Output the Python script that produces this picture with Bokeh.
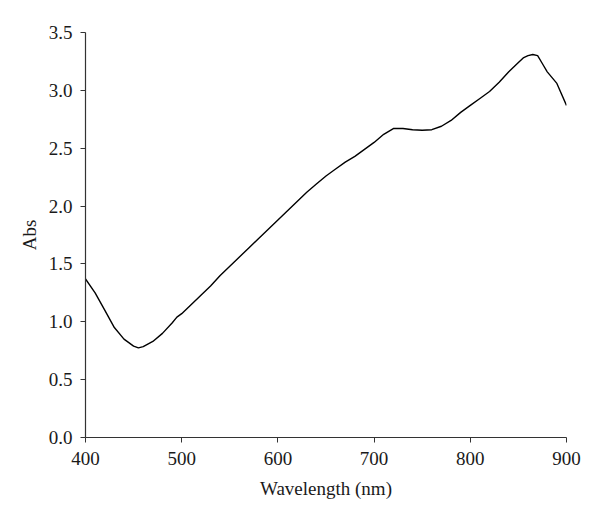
from bokeh.plotting import figure
from bokeh.models import Range1d, SingleIntervalTicker, PrintfTickFormatter
from bokeh.embed import file_html
from bokeh.resources import INLINE

wavelength = [400, 410, 420, 430, 440, 450, 455, 460, 470, 480, 490, 495, 500,
              510, 520, 530, 540, 550, 560, 570, 580, 590, 600, 610, 620, 630,
              640, 650, 660, 670, 680, 690, 700, 710, 720, 730, 740, 750, 760,
              770, 780, 790, 800, 810, 820, 830, 840, 850, 855, 860, 865, 870,
              875, 880, 890, 900]
absorbance = [1.37, 1.25, 1.10, 0.95, 0.85, 0.79, 0.775, 0.785, 0.83, 0.90, 0.99, 1.04, 1.07,
              1.15, 1.23, 1.31, 1.40, 1.48, 1.56, 1.64, 1.72, 1.80, 1.88, 1.96, 2.04, 2.12,
              2.19, 2.26, 2.32, 2.38, 2.43, 2.49, 2.55, 2.62, 2.67, 2.67, 2.66, 2.655, 2.66,
              2.69, 2.74, 2.81, 2.87, 2.93, 2.99, 3.07, 3.16, 3.24, 3.28, 3.30, 3.31, 3.30,
              3.23, 3.16, 3.06, 2.87]

FONT = "Liberation Serif"

p = figure(width=592, height=512, output_backend="svg", toolbar_location=None,
           x_range=Range1d(400, 900), y_range=Range1d(0, 3.5),
           min_border_left=85, min_border_right=26, min_border_top=32, min_border_bottom=75)
p.outline_line_color = None
p.xgrid.visible = False
p.ygrid.visible = False

p.line(wavelength, absorbance, line_color="black", line_width=1.4)

p.xaxis.ticker = SingleIntervalTicker(interval=100)
p.yaxis.ticker = SingleIntervalTicker(interval=0.5)
p.yaxis.formatter = PrintfTickFormatter(format="%.1f")
p.xaxis.axis_label = "Wavelength (nm)"
p.yaxis.axis_label = "Abs"

for ax in (p.xaxis, p.yaxis):
    ax.minor_tick_line_color = None
    ax.major_tick_in = 0
    ax.major_tick_out = 5
    ax.axis_line_color = "#333333"
    ax.axis_line_width = 1.2
    ax.major_tick_line_color = "#333333"
    ax.major_label_text_font = FONT
    ax.major_label_text_font_size = "19px"
    ax.major_label_text_color = "#1a1a1a"
    ax.axis_label_text_font = FONT
    ax.axis_label_text_font_size = "19px"
    ax.axis_label_text_font_style = "normal"
    ax.axis_label_text_color = "#1a1a1a"

p.xaxis.major_label_standoff = 9
p.xaxis.axis_label_standoff = 10
p.yaxis.major_label_standoff = 8
p.yaxis.axis_label_standoff = 6

open("out.html", "w").write(file_html(p, INLINE))
